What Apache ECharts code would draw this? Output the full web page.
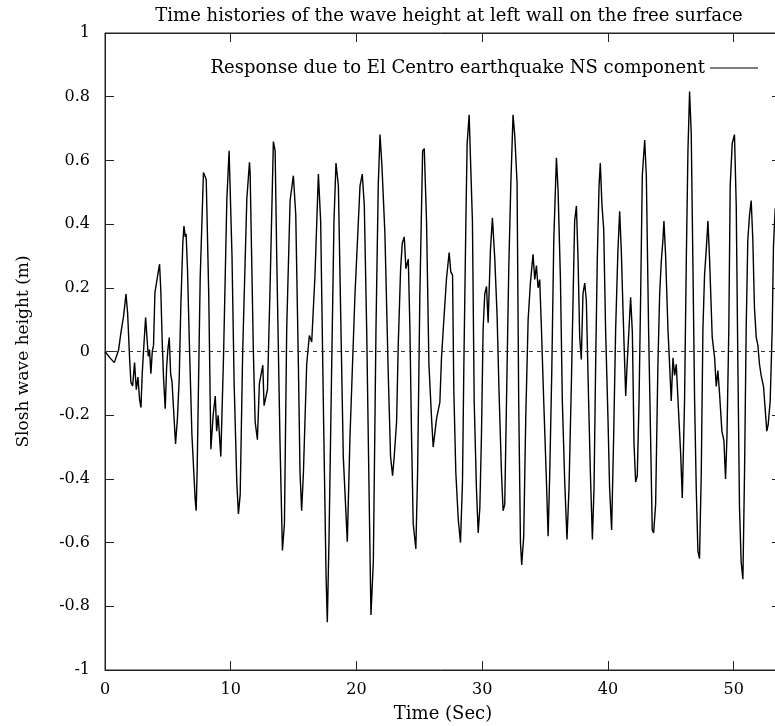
<!DOCTYPE html>
<html>
<head>
<meta charset="utf-8">
<script src="https://cdn.jsdelivr.net/npm/echarts@6/dist/echarts.min.js"></script>
<style>html,body{margin:0;padding:0;background:#fff}#chart{width:775px;height:726px}</style>
</head>
<body>
<div id="chart"></div>
<script>
// Time (s) and slosh wave height (m)
const timeSec = [
0,0.1,0.4,0.74,1.08,1.27,1.48,1.67,1.8,1.96,2.06,2.2,2.35,2.49,2.62,2.75,2.86,2.96,3.07,3.23,3.31,3.44,3.54,3.65,3.76,3.86,3.97,4.18,4.34,4.44,4.55,4.66,4.79,4.9,5.0,5.11,5.22,5.33,5.45,5.61,5.76,5.9,6.03,6.19,6.28,6.38,6.45,6.56,6.7,6.91,
7.17,7.25,7.33,7.57,7.83,7.95,8.05,8.25,8.42,8.6,8.77,8.88,9.0,9.21,9.43,9.69,9.87,10.1,10.27,10.48,10.61,10.75,10.95,11.28,11.49,11.54,
11.8,11.94,12.12,12.28,12.55,12.65,12.92,13.13,13.39,13.53,13.66,13.92,14.11,14.27,14.45,14.72,14.98,15.17,15.38,15.51,15.64,15.78,16.04,16.25,16.44,16.7,16.97,17.15,17.36,17.58,17.68,17.81,18.03,18.21,18.37,18.56,18.74,18.95,19.27,19.48,19.88,20.28,20.46,20.62,20.81,21.02,21.15,21.34,21.55,21.73,21.87,22.02,22.26,22.53,22.71,22.87,23.0,23.19,23.32,23.51,23.64,23.8,23.93,24.12,24.25,24.38,24.51,24.72,24.86,25.04,25.26,25.39,25.57,25.76,25.97,26.1,26.37,26.63,26.76,26.9,27.03,27.16,27.37,27.5,27.64,
27.74,27.9,28.09,28.27,28.43,28.54,28.7,28.8,28.96,29.09,29.22,29.36,29.54,29.68,29.81,29.94,30.07,30.2,30.34,30.47,30.65,30.81,31.0,31.18,31.34,31.53,31.66,31.79,31.93,32.11,32.27,32.45,32.59,32.77,32.9,33.04,33.14,33.3,33.46,33.65,33.83,34.04,34.18,34.31,34.44,34.57,34.71,34.89,35.1,35.24,35.37,35.53,35.69,35.9,36.03,36.22,36.37,36.56,36.74,36.9,37.09,37.22,37.35,37.49,37.62,37.75,37.88,38.01,38.15,38.28,38.46,38.6,38.76,38.89,39.02,39.15,39.29,39.39,39.52,39.66,39.81,40.0,40.13,40.29,40.45,40.61,40.79,40.93,
41.06,41.19,41.33,41.41,41.51,41.67,41.8,41.94,42.07,42.2,42.33,42.47,42.6,42.73,42.92,43.05,43.23,43.39,43.52,43.63,43.79,43.97,44.11,44.24,44.37,44.45,44.58,44.77,44.9,45.03,45.17,45.3,45.43,45.64,45.78,45.91,46.09,46.23,46.36,46.49,46.62,46.75,46.89,47.02,47.15,47.28,47.42,47.55,47.68,47.81,47.95,48.08,48.29,48.48,48.61,48.74,48.87,49.06,49.22,49.35,49.46,49.61,49.72,49.88,50.06,50.2,50.33,50.46,50.59,50.73,50.86,50.99,51.12,51.26,51.39,51.52,51.65,51.79,51.92,52.05,52.18,52.37,52.5,52.63,52.74,52.9,53.06,53.16,53.3
];
const waveHeight = [
0,0,-0.02,-0.035,0.005,0.06,0.112,0.18,0.12,-0.024,-0.097,-0.108,-0.035,-0.12,-0.08,-0.15,-0.176,-0.07,0.006,0.107,0.06,-0.015,0.006,-0.07,0,0.02,0.185,0.237,0.274,0.19,0.03,-0.087,-0.18,-0.05,0.006,0.044,-0.07,-0.095,-0.18,-0.29,-0.21,-0.087,0.143,0.342,0.394,0.36,0.37,0.26,0.04,-0.26,
-0.464,-0.5,-0.37,0.23,0.562,0.55,0.54,0.18,-0.307,-0.2,-0.14,-0.25,-0.2,-0.33,-0.01,0.478,0.63,0.3,-0.1,-0.41,-0.51,-0.45,0,0.48,0.594,0.563,
0,-0.22,-0.277,-0.1,-0.043,-0.17,-0.12,0.205,0.659,0.63,0.29,-0.29,-0.625,-0.54,0.07,0.474,0.552,0.43,-0.043,-0.38,-0.5,-0.38,-0.04,0.05,0.03,0.24,0.557,0.41,-0.154,-0.704,-0.85,-0.6,-0.04,0.41,0.592,0.52,0.126,-0.33,-0.597,-0.27,0.18,0.52,0.557,0.46,0.07,-0.49,-0.827,-0.66,0.07,0.52,0.681,0.586,0.37,-0.076,-0.33,-0.39,-0.33,-0.22,0.02,0.26,0.34,0.36,0.26,0.29,0.07,-0.27,-0.54,-0.62,-0.38,0.18,0.63,0.637,0.41,-0.04,-0.21,-0.3,-0.21,-0.16,-0.02,0.07,0.15,0.23,0.311,0.25,0.24,
-0.12,-0.38,-0.525,-0.6,-0.41,-0.04,0.41,0.653,0.743,0.575,0.41,-0.155,-0.43,-0.57,-0.49,-0.26,0.07,0.18,0.204,0.09,0.316,0.42,0.29,0.115,-0.13,-0.38,-0.5,-0.48,-0.155,0.26,0.52,0.743,0.676,0.53,-0.155,-0.6,-0.67,-0.58,-0.21,0.1,0.215,0.305,0.226,0.27,0.2,0.226,0.07,-0.155,-0.4,-0.58,-0.38,-0.065,0.35,0.608,0.507,0.226,-0.155,-0.41,-0.59,-0.43,-0.1,0.16,0.41,0.457,0.29,0.045,-0.025,0.18,0.215,0.16,-0.155,-0.38,-0.59,-0.43,-0.04,0.29,0.52,0.592,0.46,0.385,0.07,-0.21,-0.43,-0.56,-0.27,0.07,0.316,0.44,
0.316,0.137,-0.04,-0.14,-0.05,0.07,0.17,0.06,-0.29,-0.41,-0.39,-0.155,0.18,0.552,0.664,0.552,0.07,-0.27,-0.56,-0.57,-0.48,-0.043,0.18,0.283,0.35,0.41,0.305,0.07,-0.04,-0.155,-0.02,-0.075,-0.04,-0.21,-0.32,-0.46,-0.155,0.29,0.63,0.816,0.687,0.29,-0.155,-0.43,-0.625,-0.65,-0.38,0.07,0.24,0.316,0.41,0.29,0.045,-0.02,-0.11,-0.06,-0.13,-0.25,-0.28,-0.4,-0.27,0.07,0.52,0.653,0.681,0.46,-0.04,-0.49,-0.66,-0.715,-0.38,0.07,0.35,0.43,0.474,0.35,0.137,0.045,0.02,-0.04,-0.075,-0.11,-0.18,-0.25,-0.23,-0.155,0.07,0.33,0.45
];
const xTicks = { min: 0, max: 53.76, step: 10 };
const yTicks = { min: -1, max: 1, step: 0.2 };
const titleText = 'Time histories of the wave height at left wall on the free surface';
const legendText = 'Response due to El Centro earthquake NS component';
const xName = 'Time (Sec)';
const yName = 'Slosh wave height (m)';

const FONT = 'DejaVu Serif';
const points = timeSec.map((t, i) => [t, waveHeight[i]]);
const axisCommon = {
  type: 'value',
  axisLine: { show: true, onZero: false, lineStyle: { color: '#222', width: 1 } },
  axisTick: { show: true, inside: true, length: 9, lineStyle: { color: '#222', width: 1 } },
  splitLine: { show: false }
};
const chart = echarts.init(document.getElementById('chart'), null, { renderer: 'canvas' });
chart.setOption({
  animation: false,
  backgroundColor: '#fff',
  title: {
    text: titleText, left: 444, top: 2, textAlign: 'center',
    textStyle: { fontFamily: FONT, fontSize: 18, fontWeight: 'normal', color: '#000' }
  },
  legend: {
    data: [legendText], right: 17, top: 59, align: 'right', padding: 0,
    icon: 'rect', itemWidth: 48, itemHeight: 1,
    textStyle: { fontFamily: FONT, fontSize: 18, color: '#000' }
  },
  grid: { left: 105, top: 33, width: 676, height: 637, show: true, borderColor: '#222', borderWidth: 1, outerBoundsMode: 'none', containLabel: false },
  xAxis: [
    Object.assign({}, axisCommon, {
      min: xTicks.min, max: xTicks.max, interval: xTicks.step, position: 'bottom',
      name: xName, nameLocation: 'middle', nameGap: 35,
      nameTextStyle: { fontFamily: FONT, fontSize: 18, color: '#000' },
      axisLabel: { fontFamily: FONT, fontSize: 16, color: '#000', margin: 12, showMaxLabel: false }
    }),
    Object.assign({}, axisCommon, {
      min: xTicks.min, max: xTicks.max, interval: xTicks.step, position: 'top',
      axisLabel: { show: false }
    })
  ],
  yAxis: [
    Object.assign({}, axisCommon, {
      min: yTicks.min, max: yTicks.max, interval: yTicks.step, position: 'left',
      name: yName, nameLocation: 'middle', nameGap: 73, nameRotate: 90,
      nameTextStyle: { fontFamily: FONT, fontSize: 17, color: '#000' },
      axisLabel: { fontFamily: FONT, fontSize: 16, color: '#000', margin: 15 }
    }),
    Object.assign({}, axisCommon, {
      min: yTicks.min, max: yTicks.max, interval: yTicks.step, position: 'right',
      axisLabel: { show: false }
    })
  ],
  series: [{
    name: legendText, type: 'line', data: points,
    xAxisIndex: 0, yAxisIndex: 0,
    symbol: 'none', showSymbol: false,
    lineStyle: { color: '#000', width: 1.4 },
    itemStyle: { color: '#000' },
    markLine: {
      silent: true, symbol: ['none', 'none'], label: { show: false },
      lineStyle: { color: '#333', width: 1, type: [4, 4] },
      data: [{ yAxis: 0 }]
    }
  }]
});
</script>
</body>
</html>
